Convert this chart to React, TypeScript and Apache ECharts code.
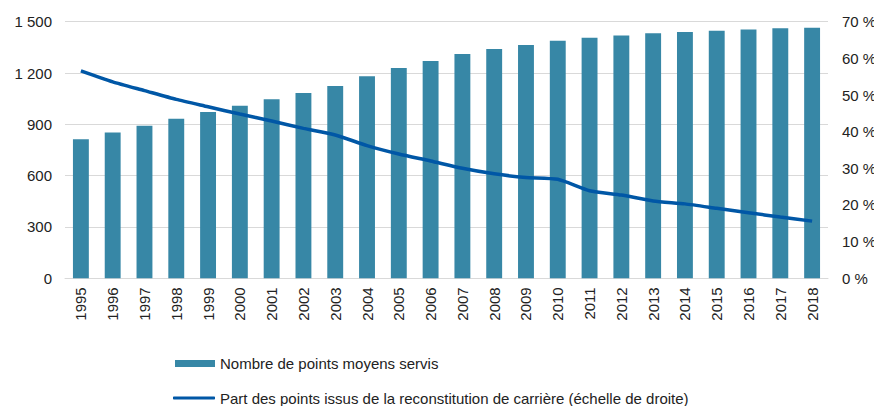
import React, { useEffect, useRef } from "react";
import * as echarts from "echarts";

const years = ["1995","1996","1997","1998","1999","2000","2001","2002","2003","2004","2005","2006","2007","2008","2009","2010","2011","2012","2013","2014","2015","2016","2017","2018"];
const pointsMoyens = [813, 853, 892, 933, 972, 1009, 1046, 1083, 1124, 1181, 1229, 1270, 1311, 1340, 1364, 1389, 1406, 1420, 1432, 1440, 1447, 1455, 1461, 1465];
const partReconstitution = [56.6, 53.6, 51.2, 48.8, 46.8, 44.8, 42.9, 40.9, 39.1, 36.2, 33.9, 32.0, 30.0, 28.5, 27.5, 27.0, 23.9, 22.7, 21.1, 20.3, 19.1, 17.9, 16.7, 15.6];
const barName = "Nombre de points moyens servis";
const lineName = "Part des points issus de la reconstitution de carrière (échelle de droite)";

const FONT = "'Liberation Sans', Arial, sans-serif";

export default function App() {
  const ref = useRef<HTMLDivElement>(null);
  useEffect(() => {
    document.body.style.margin = "0";
    const chart = echarts.init(ref.current!, null, { renderer: "svg" });
    const txt = { color: "#222", fontFamily: FONT, fontSize: 15 };
    chart.setOption({
      animation: false,
      textStyle: { fontFamily: FONT },
      grid: { left: 65, right: 46, top: 21.7, height: 256.6, containLabel: false, outerBoundsMode: "none" },
      legend: [
        {
          data: [barName],
          left: 170,
          top: 351,
          itemWidth: 40,
          itemHeight: 7,
          icon: "rect",
          textStyle: { ...txt, fontSize: 15 },
        },
        {
          data: [lineName],
          left: 168,
          top: 385.5,
          itemWidth: 42,
          itemHeight: 3,
          icon: "roundRect",
          textStyle: { ...txt, fontSize: 15 },
        },
      ],
      xAxis: {
        type: "category",
        data: years,
        axisTick: { show: false },
        axisLine: { lineStyle: { color: "#d9d9d9", width: 1 } },
        axisLabel: { ...txt, rotate: 90, margin: 9, interval: 0 },
      },
      yAxis: [
        {
          type: "value",
          min: 0,
          max: 1500,
          interval: 300,
          axisLine: { show: false },
          axisTick: { show: false },
          splitLine: { lineStyle: { color: "#d9d9d9", width: 1 } },
          axisLabel: {
            ...txt,
            margin: 13,
            formatter: (v: number) => (v >= 1000 ? Math.floor(v / 1000) + " " + String(v % 1000).padStart(3, "0") : String(v)),
          },
        },
        {
          type: "value",
          min: 0,
          max: 70,
          interval: 10,
          axisLine: { show: false },
          axisTick: { show: false },
          splitLine: { show: false },
          axisLabel: { ...txt, margin: 14, formatter: (v: number) => v + " %" },
        },
      ],
      series: [
        {
          name: barName,
          type: "bar",
          data: pointsMoyens,
          barWidth: "50%",
          itemStyle: { color: "#3787a6" },
        },
        {
          name: lineName,
          type: "line",
          yAxisIndex: 1,
          data: partReconstitution,
          showSymbol: false,
          symbol: "none",
          smooth: 0.2,
          lineStyle: { color: "#0057a6", width: 3.5 },
          itemStyle: { color: "#0057a6" },
        },
      ],
    });
    return () => chart.dispose();
  }, []);
  return <div ref={ref} style={{ width: 874, height: 406 }} />;
}
